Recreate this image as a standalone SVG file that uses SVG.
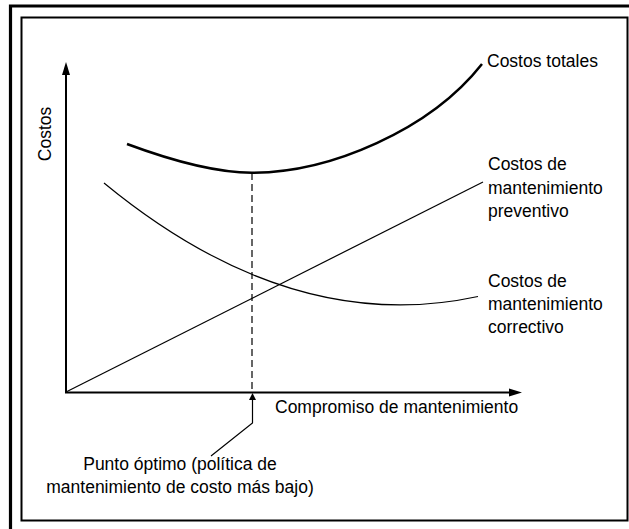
<svg xmlns="http://www.w3.org/2000/svg" width="629" height="529" viewBox="0 0 629 529">
<style>
.t{font-family:"Liberation Sans",Arial,sans-serif;font-size:17.5px;fill:#000}
.thin{fill:none;stroke:#000;stroke-width:1.2}
.thick{fill:none;stroke:#000;stroke-width:2.5}
.axis{fill:none;stroke:#000;stroke-width:2}
</style>
<rect width="629" height="529" fill="#fff"/>
<g id="frame">
<path d="M10.5,529 V6 H629" fill="none" stroke="#000" stroke-width="3.2"/>
<rect x="21.5" y="17.5" width="606" height="503" fill="none" stroke="#000" stroke-width="2"/>
</g>
<g id="connectors">
<path class="axis" d="M66,393 V72"/>
<polygon points="66,62 62,75 70,75"/>
<path class="axis" d="M65,392.5 H511"/>
<polygon points="522,392.5 509,388.5 509,396.5"/>
<path class="thin" d="M252,173 V392" stroke-dasharray="7,4"/>
<path class="thin" d="M211,456 L252.5,423 V398"/>
<polygon points="252.5,393 249,400 256,400"/>
</g>
<g id="curve-total">
<path class="thick" d="M127,144 C170,160 215,172.7 252,172.7 C330,172.7 430,130 482,64"/>
</g>
<g id="curve-preventivo">
<path class="thin" d="M66,392 L483,182"/>
</g>
<g id="curve-correctivo">
<path class="thin" d="M104,183 Q291,337 478,296.5"/>
</g>
<g id="label-costos">
<text class="t" transform="translate(51,134) rotate(-90)" text-anchor="middle">Costos</text>
</g>
<g id="label-totales"><text class="t" x="487" y="67">Costos totales</text></g>
<g id="label-preventivo">
<text class="t" x="488" y="170">Costos de</text>
<text class="t" x="488" y="193.5">mantenimiento</text>
<text class="t" x="488" y="216.5">preventivo</text>
</g>
<g id="label-correctivo">
<text class="t" x="488" y="287">Costos de</text>
<text class="t" x="488" y="310">mantenimiento</text>
<text class="t" x="488" y="333">correctivo</text>
</g>
<g id="label-compromiso"><text class="t" x="275" y="413">Compromiso de mantenimiento</text></g>
<g id="label-punto">
<text class="t" x="180" y="470" text-anchor="middle">Punto óptimo (política de</text>
<text class="t" x="180" y="493" text-anchor="middle">mantenimiento de costo más bajo)</text>
</g>
</svg>
